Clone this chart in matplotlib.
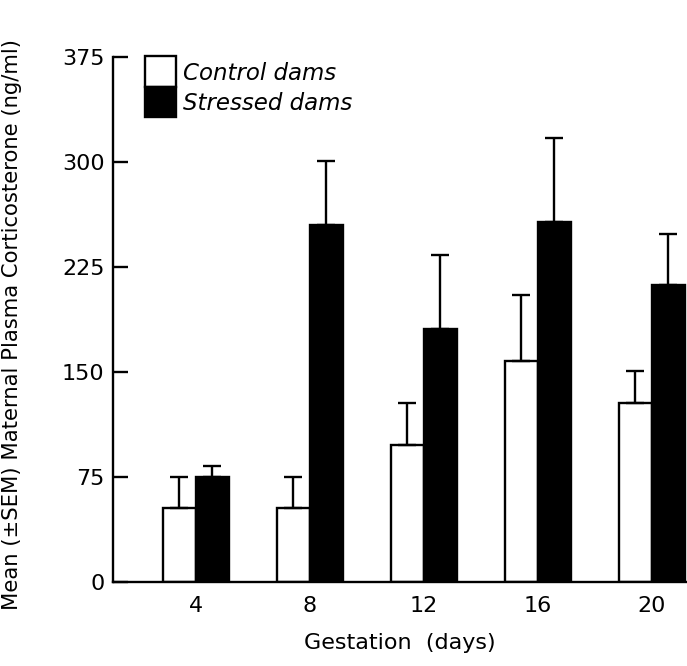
import numpy as np
import matplotlib.pyplot as plt
from matplotlib.patches import Rectangle

days = ['4', '8', '12', '16', '20']
control = [53, 53, 98, 158, 128]
control_err = [22, 22, 30, 47, 23]
stressed = [75, 255, 181, 257, 212]
stressed_err = [8, 46, 53, 60, 37]

fig = plt.figure(figsize=(6.87, 6.66), dpi=100)
ax = fig.add_axes([0.1645, 0.126, 0.8355, 0.788])

x = np.arange(len(days))
w = 0.29
lw = 1.7
ax.bar(x - w / 2, control, w, color='white', edgecolor='black', linewidth=lw,
       yerr=[np.zeros(len(x)), control_err], capsize=6.5,
       error_kw=dict(elinewidth=lw, capthick=lw, ecolor='black'))
ax.bar(x + w / 2, stressed, w, color='black', edgecolor='black', linewidth=lw,
       yerr=[np.zeros(len(x)), stressed_err], capsize=6.5,
       error_kw=dict(elinewidth=lw, capthick=lw, ecolor='black'))

ax.set_xlim(-0.728, 4.31)
ax.set_ylim(0, 375)
ax.set_yticks([0, 75, 150, 225, 300, 375])
ax.set_xticks(x)
ax.set_xticklabels(days)
ax.tick_params(axis='y', direction='in', length=11, width=lw, labelsize=16, pad=6)
ax.tick_params(axis='x', length=0, labelsize=16, pad=10)
for s in ['top', 'right']:
    ax.spines[s].set_visible(False)
for s in ['left', 'bottom']:
    ax.spines[s].set_linewidth(lw)

ax.set_xlabel('Gestation  (days)', fontsize=16, labelpad=12)
ax.set_ylabel('Mean (±SEM) Maternal Plasma Corticosterone (ng/ml)', fontsize=15.2)
ax.yaxis.set_label_coords(-0.158, 0.49)

# legend drawn by hand: stacked white / black boxes
tr = ax.transAxes
ax.add_patch(Rectangle((0.056, 0.944), 0.054, 0.058, transform=tr, facecolor='white',
                       edgecolor='black', linewidth=lw, clip_on=False))
ax.add_patch(Rectangle((0.056, 0.886), 0.054, 0.058, transform=tr, facecolor='black',
                       edgecolor='black', linewidth=lw, clip_on=False))
ax.text(0.122, 0.97, 'Control dams', transform=tr, fontsize=16.5, style='italic', va='center')
ax.text(0.122, 0.912, 'Stressed dams', transform=tr, fontsize=16.5, style='italic', va='center')

fig.savefig('out.png', dpi=100)
